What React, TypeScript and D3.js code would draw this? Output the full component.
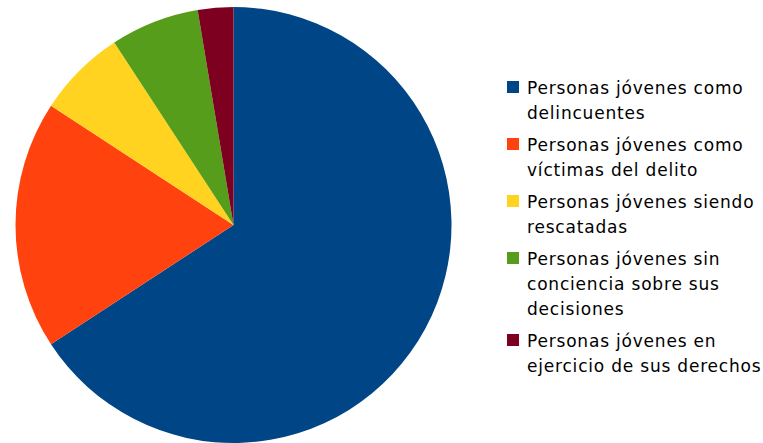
import React, { useEffect, useRef } from 'react';
import * as d3 from 'd3';

const categories: string[][] = [
  ['Personas jóvenes como', 'delincuentes'],
  ['Personas jóvenes como', 'víctimas del delito'],
  ['Personas jóvenes siendo', 'rescatadas'],
  ['Personas jóvenes sin', 'conciencia sobre sus', 'decisiones'],
  ['Personas jóvenes en', 'ejercicio de sus derechos'],
];
const values: number[] = [50, 14, 5, 5, 2];
const colors: string[] = ['#004586', '#ff420e', '#ffd320', '#579d1c', '#7e0021'];

const App: React.FC = () => {
  const svgRef = useRef<SVGSVGElement | null>(null);

  useEffect(() => {
    const width = 763;
    const height = 443;
    const svg = d3.select(svgRef.current).attr('width', width).attr('height', height);
    svg.selectAll('*').remove();

    const cx = 233.5;
    const cy = 225;
    const radius = 218;

    const pie = d3.pie<number>().sort(null).value((d) => d);
    const arc = d3.arc<d3.PieArcDatum<number>>().innerRadius(0).outerRadius(radius);

    const g = svg.append('g').attr('transform', `translate(${cx},${cy})`);
    g.selectAll('path')
      .data(pie(values))
      .enter()
      .append('path')
      .attr('d', arc)
      .attr('fill', (_, i) => colors[i]);

    // legend
    const lineH = 25;
    const itemGap = 7;
    let y = 88;
    const legend = svg
      .append('g')
      .style('font', '17px "DejaVu Sans"')
      .style('letter-spacing', '0.8px')
      .attr('fill', '#000');
    categories.forEach((lines, i) => {
      legend
        .append('rect')
        .attr('x', 507)
        .attr('y', y - 7)
        .attr('width', 12)
        .attr('height', 12)
        .attr('fill', colors[i]);
      lines.forEach((t, j) => {
        legend
          .append('text')
          .attr('x', 527)
          .attr('y', y + j * lineH)
          .attr('dy', '0.35em')
          .text(t);
      });
      y += lines.length * lineH + itemGap;
    });
  }, []);

  return (
    <div style={{ position: 'absolute', left: 0, top: 0 }}>
      <svg ref={svgRef} style={{ display: 'block', background: '#fff' }} />
    </div>
  );
};

export default App;
